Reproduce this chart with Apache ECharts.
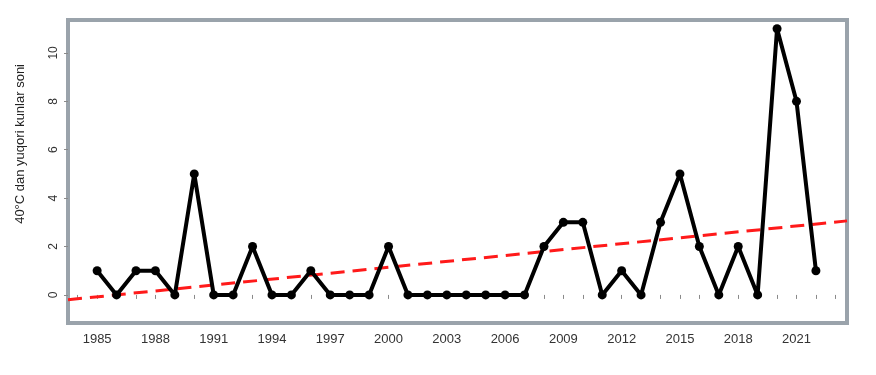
<!DOCTYPE html>
<html>
<head>
<meta charset="utf-8">
<script src="https://cdn.jsdelivr.net/npm/echarts@6/dist/echarts.min.js"></script>
<style>
  html, body { margin: 0; padding: 0; background: #fff; }
  #Chart { width: 876px; height: 375px; }
</style>
</head>
<body>
<div id="Chart"></div>
<script>
var years = [1985, 1986, 1987, 1988, 1989, 1990, 1991, 1992, 1993, 1994,
             1995, 1996, 1997, 1998, 1999, 2000, 2001, 2002, 2003, 2004,
             2005, 2006, 2007, 2008, 2009, 2010, 2011, 2012, 2013, 2014,
             2015, 2016, 2017, 2018, 2019, 2020, 2021, 2022];
var days = [1, 0, 1, 1, 0, 5, 0, 0, 2, 0,
            0, 1, 0, 0, 0, 2, 0, 0, 0, 0,
            0, 0, 0, 2, 3, 3, 0, 1, 0, 3,
            5, 2, 0, 2, 0, 11, 8, 1];
// trend line ends
var trendYears = [1983.5, 2023.6];
var trendValues = [-0.2, 3.06];
var xLabels = [1985, 1988, 1991, 1994, 1997, 2000, 2003, 2006, 2009, 2012, 2015, 2018, 2021];
var xTicks = [1984, 1985, 1986, 1987, 1988, 1989, 1990, 1991, 1992, 1993, 1994, 1995, 1996,
              1997, 1998, 1999, 2000, 2001, 2002, 2003, 2004, 2005, 2006, 2007, 2008, 2009,
              2010, 2011, 2012, 2013, 2014, 2015, 2016, 2017, 2018, 2019, 2020, 2021, 2022, 2023];
var yLabels = [0, 2, 4, 6, 8, 10];
var yTitle = '40°C dan yuqori kunlar soni';

var Chart = echarts.init(document.getElementById('Chart'));

var lineData = years.map(function (y, i) { return [y, days[i]]; });
var trendData = trendYears.map(function (y, i) { return [y, trendValues[i]]; });

var option = {
    animation: false,
    textStyle: { fontFamily: 'Liberation Sans, Arial, sans-serif' },
    grid: {
        left: 68, right: 29, top: 20, bottom: 52,
        show: true,
        borderColor: '#9aa3ab',
        borderWidth: 4,
        backgroundColor: '#fff'
    },
    xAxis: {
        type: 'value',
        min: 1983.5,
        max: 2023.6,
        axisLine: { show: false },
        splitLine: { show: false },
        axisTick: {
            show: true,
            length: 4,
            customValues: xTicks,
            lineStyle: { color: '#8a8a8a', width: 1 }
        },
        axisLabel: {
            customValues: xLabels,
            formatter: function (v) { return String(v); },
            margin: 10,
            fontSize: 13,
            color: '#333'
        }
    },
    yAxis: {
        type: 'value',
        min: -1.16,
        max: 11.36,
        axisLine: { show: false },
        splitLine: { show: false },
        axisTick: {
            show: true,
            length: 4,
            customValues: yLabels,
            lineStyle: { color: '#8a8a8a', width: 1 }
        },
        axisLabel: {
            customValues: yLabels,
            rotate: 90,
            margin: 8,
            fontSize: 12,
            color: '#333'
        }
    },
    graphic: [{
        type: 'text',
        left: 14,
        top: 64,
        rotation: Math.PI / 2,
        style: {
            text: yTitle,
            fontSize: 13,
            fill: '#222',
            fontFamily: 'Liberation Sans, Arial, sans-serif'
        }
    }],
    series: [
        {
            name: 'trend',
            type: 'line',
            data: trendData,
            symbol: 'none',
            z: 1,
            lineStyle: { color: '#ff1a1a', width: 3, type: [14, 8] }
        },
        {
            name: 'days',
            type: 'line',
            data: lineData,
            symbol: 'circle',
            symbolSize: 9,
            z: 2,
            itemStyle: { color: '#000' },
            lineStyle: { color: '#000', width: 4 }
        }
    ]
};

Chart.setOption(option);
</script>
</body>
</html>
